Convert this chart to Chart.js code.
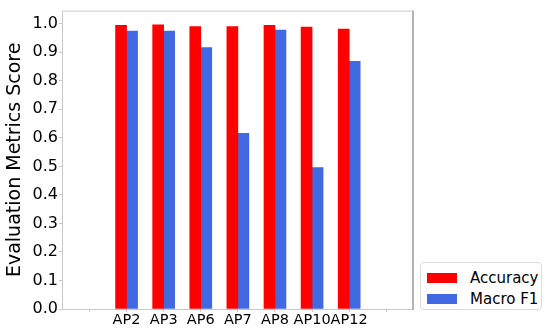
<!DOCTYPE html>
<html>
<head>
<meta charset="utf-8">
<script src="https://cdn.jsdelivr.net/npm/chart.js@4/dist/chart.umd.min.js"></script>
<style>
  body { margin: 0; background: #fff; }
  #wrap { position: relative; width: 550px; height: 328px; }
  #legend {
    position: absolute; left: 420px; top: 262px; width: 122px; height: 48px;
    border: 1px solid #dcdcdc; border-radius: 4px; background: #fff;
    font-family: 'DejaVu Sans', sans-serif; font-size: 15px; color: #000;
    box-sizing: border-box; padding-top: 4px;
  }
  .item { display: flex; align-items: center; height: 21px; }
  .swatch { width: 30px; height: 10px; margin-left: 6px; margin-right: 13px; }
</style>
</head>
<body>
<div id="wrap">
  <canvas id="chart" width="550" height="328"></canvas>
  <div id="legend"></div>
</div>
<script>
const categories = ['AP2', 'AP3', 'AP6', 'AP7', 'AP8', 'AP10', 'AP12'];
const accuracy = [0.994, 0.996, 0.990, 0.990, 0.994, 0.988, 0.981];
const macroF1 = [0.974, 0.974, 0.916, 0.616, 0.978, 0.496, 0.868];
const yTicks = [0.0, 0.1, 0.2, 0.3, 0.4, 0.5, 0.6, 0.7, 0.8, 0.9, 1.0];

const font = 'DejaVu Sans';

// bars sit at x = 1..7, with empty ticks at 0 and 8 like the original
const toPoints = (vals) => vals.map((v, i) => ({ x: i + 1, y: v }));

const frame = {
  id: 'frame',
  afterDraw(chart) {
    const { ctx, chartArea: a } = chart;
    ctx.save();
    ctx.strokeStyle = '#c8c8c8';
    ctx.lineWidth = 1;
    ctx.beginPath();
    ctx.moveTo(a.right, a.top + 0.5);
    ctx.lineTo(a.left + 0.5, a.top + 0.5);
    ctx.lineTo(a.left + 0.5, a.bottom + 0.5);
    ctx.lineTo(a.right, a.bottom + 0.5);
    ctx.stroke();
    ctx.strokeStyle = '#b4b4b4';
    ctx.lineWidth = 2;
    ctx.beginPath();
    ctx.moveTo(a.right, a.top);
    ctx.lineTo(a.right, a.bottom + 1);
    ctx.stroke();
    ctx.restore();
  },
};

const chart = new Chart(document.getElementById('chart'), {
  type: 'bar',
  plugins: [frame],
  data: {
    datasets: [
      { label: 'Accuracy', data: toPoints(accuracy), backgroundColor: '#ff0000' },
      { label: 'Macro F1', data: toPoints(macroF1), backgroundColor: '#4169e1' },
    ],
  },
  options: {
    responsive: false,
    devicePixelRatio: 1,
    animation: false,
    barThickness: 11,
    layout: { padding: { top: 9, right: 137, left: 0, bottom: 0 } },
    plugins: { legend: { display: false }, tooltip: { enabled: false } },
    scales: {
      x: {
        type: 'linear',
        offset: false,
        min: -0.74,
        max: 8.72,
        afterBuildTicks: (s) => {
          s.ticks = [0, 1, 2, 3, 4, 5, 6, 7, 8].map((v) => ({ value: v }));
        },
        afterFit: (s) => { s.height = 19; },
        grid: { offset: false, drawOnChartArea: false, tickLength: 3, color: '#c8c8c8' },
        border: { display: false },
        ticks: {
          autoSkip: false,
          maxRotation: 0,
          padding: 0,
          color: '#000',
          font: { family: font, size: 14.5 },
          callback: (v) => categories[v - 1] || '',
        },
      },
      y: {
        min: 0,
        max: 1.046,
        afterBuildTicks: (s) => {
          s.ticks = yTicks.map((v) => ({ value: v }));
        },
        afterFit: (s) => { s.width = 62; },
        grid: { drawOnChartArea: false, tickLength: 3, color: '#c8c8c8' },
        border: { display: false },
        ticks: {
          padding: 1,
          color: '#000',
          font: { family: font, size: 16 },
          callback: (v) => v.toFixed(1),
        },
        title: {
          display: true,
          text: 'Evaluation Metrics Score',
          color: '#000',
          font: { family: font, size: 19 },
          padding: { top: 4, bottom: 0 },
        },
      },
    },
  },
});

const legend = document.getElementById('legend');
chart.data.datasets.forEach((ds) => {
  const item = document.createElement('div');
  item.className = 'item';
  item.innerHTML = `<span class="swatch" style="background:${ds.backgroundColor}"></span><span>${ds.label}</span>`;
  legend.appendChild(item);
});
</script>
</body>
</html>
